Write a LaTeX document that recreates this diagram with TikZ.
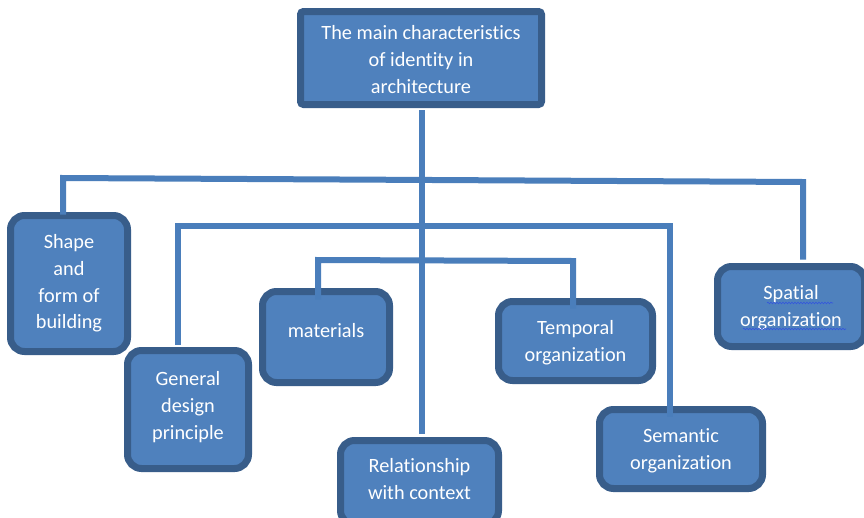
\documentclass[tikz,border=0pt]{standalone}
\usepackage{fontspec}
\setmainfont{Carlito}[Ligatures={NoCommon,NoContextual}]
\usetikzlibrary{decorations.pathmorphing}
\definecolor{boxfill}{HTML}{4F81BD}
\definecolor{boxborder}{HTML}{385D8A}
\definecolor{linecol}{HTML}{4A7EBB}
\definecolor{spell}{HTML}{3355DD}
\newcommand\txtshift[2]{\raisebox{#1}[\height][\depth]{\begin{tabular}{@{}c@{}}#2\end{tabular}}}
\begin{document}
\begin{tikzpicture}[x=1pt,y=-1pt,
  box/.style={draw=boxborder, line width=7pt, fill=boxfill, rounded corners=14pt,
    text=white, align=center, inner sep=0pt,
    font=\fontsize{20.3}{26.7}\selectfont},
  topbox/.style={box, rounded corners=3pt},
  conn/.style={draw=linecol, line width=6pt, line join=miter},
  squig/.style={draw=spell, line width=0.6pt, decorate,
    decoration={snake, segment length=3pt, amplitude=0.8pt}}]
\useasboundingbox[fill=white] (0,0) rectangle (864,517);
\begin{scope}
\clip (0,0) rectangle (864,517);
% boxes
\node[topbox, minimum width=241pt, minimum height=93pt] (top) at (421,58)
  {\txtshift{-3pt}{The main characteristics\\of identity in\\architecture}};
\node[box, minimum width=117pt, minimum height=136pt] (shape) at (69,283.5)
  {Shape\\and\\form of\\building};
\node[box, minimum width=121pt, minimum height=118pt] (general) at (188,409.5)
  {\txtshift{2.5pt}{General\\design\\principle}};
\node[box, minimum width=127pt, minimum height=91pt] (materials) at (326,337)
  {\raisebox{14pt}{materials}};
\node[box, minimum width=158pt, minimum height=84pt] (rel) at (419.5,482.5)
  {\txtshift{2pt}{Relationship\\with context}};
\node[box, minimum width=154pt, minimum height=79pt] (temporal) at (575.5,341)
  {\txtshift{-2pt}{Temporal\\organization}};
\node[box, minimum width=163pt, minimum height=79pt] (semantic) at (681,449)
  {\txtshift{-2pt}{Semantic\\organization}};
\node[box, minimum width=147pt, minimum height=80pt] (spatial) at (791,306.5)
  {\txtshift{-1pt}{Spatial\\organization}};
% spell-check underlines
\draw[squig] (767,303) -- (833,303);
\draw[squig] (743,329) -- (846,329);
% junction coordinates
\coordinate (mx) at (422,0);
\coordinate (h1L) at (63,178);
\coordinate (h1R) at (803,182);
\coordinate (h2L) at (178,226);
\coordinate (h2R) at (670,226);
\coordinate (h3L) at (318,260);
\coordinate (h3R) at (573,261);
% connectors
\draw[conn, shorten <=2pt, shorten >=3pt] (mx |- top.south) -- (mx |- rel.north);
\draw[conn, shorten <=-2.5pt, shorten >=3.5pt] (h1L |- shape.north) -- (h1L) -- (h1R) -- (h1R |- spatial.north);
\draw[conn, shorten <=2.5pt, shorten >=-10.5pt] (h2L |- general.north) -- (h2L) -- (h2R) -- (h2R |- semantic.north);
\draw[conn, shorten <=-11.5pt, shorten >=-10.5pt] (h3L |- materials.north) -- (h3L) -- (h3R) -- (h3R |- temporal.north);
\end{scope}
\end{tikzpicture}
\end{document}
